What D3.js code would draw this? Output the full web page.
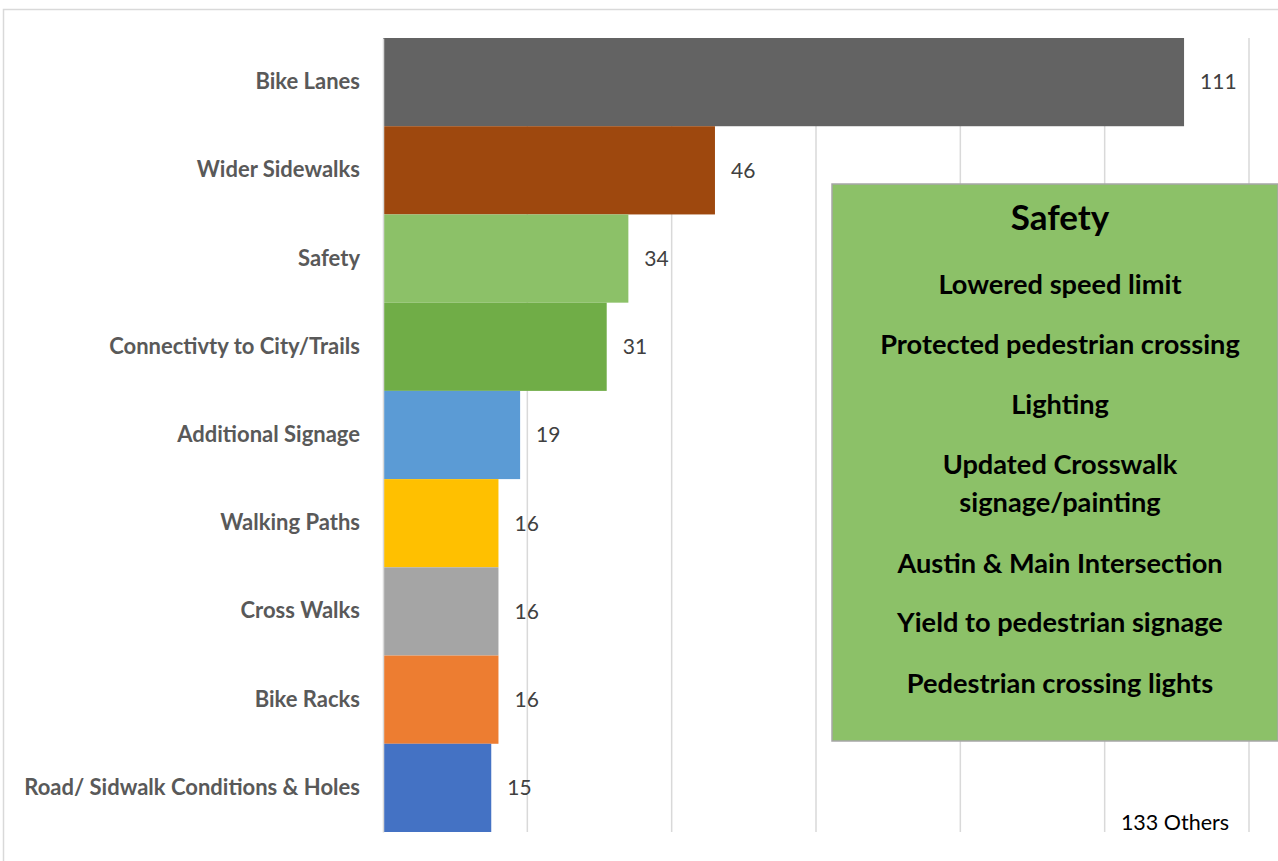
<!DOCTYPE html>
<html>
<head>
<meta charset="utf-8">
<script src="https://cdn.jsdelivr.net/npm/d3@7"></script>
<style>
  html, body { margin: 0; padding: 0; background: #fff; }
  svg { display: block; }
</style>
</head>
<body>
<svg id="chart" width="1278" height="861"></svg>
<script>
// Improvement requests, ranked by number of mentions
const categories = [
  "Bike Lanes",
  "Wider Sidewalks",
  "Safety",
  "Connectivty to City/Trails",
  "Additional Signage",
  "Walking Paths",
  "Cross Walks",
  "Bike Racks",
  "Road/ Sidwalk Conditions & Holes"
];
const counts = [111, 46, 34, 31, 19, 16, 16, 16, 15];
const barColors = ["#636363", "#9e480e", "#8cc168", "#70ad47", "#5b9bd5",
                   "#ffc000", "#a5a5a5", "#ed7d31", "#4472c4"];
const xTicks = [0, 20, 40, 60, 80, 100, 120];

// Breakdown of the "Safety" responses
const safetyTitle = "Safety";
const safetyItems = [
  ["Lowered speed limit"],
  ["Protected pedestrian crossing"],
  ["Lighting"],
  ["Updated Crosswalk", "signage/painting"],
  ["Austin & Main Intersection"],
  ["Yield to pedestrian signage"],
  ["Pedestrian crossing lights"]
];
const othersNote = "133 Others";

const FONT = "Lato, 'Open Sans', sans-serif";
const svg = d3.select("#chart");

// chart frame
svg.append("rect")
  .attr("x", 3.5).attr("y", 9.5)
  .attr("width", 1290).attr("height", 870)
  .attr("fill", "#fff").attr("stroke", "#d9d9d9").attr("stroke-width", 1.5);

const plot = { left: 383, top: 38, right: 1249, bottom: 832 };

const x = d3.scaleLinear().domain([0, 120]).range([plot.left, plot.right]);
const y = d3.scaleBand().domain(categories).range([plot.top, plot.bottom]).padding(0);

// vertical gridlines
svg.append("g")
  .selectAll("line")
  .data(xTicks.slice(1))
  .join("line")
  .attr("x1", d => x(d)).attr("x2", d => x(d))
  .attr("y1", plot.top).attr("y2", plot.bottom)
  .attr("stroke", "#d9d9d9").attr("stroke-width", 1.5);

// bars
svg.append("g")
  .selectAll("rect")
  .data(categories)
  .join("rect")
  .attr("x", x(0))
  .attr("y", d => y(d))
  .attr("width", (d, i) => x(counts[i]) - x(0))
  .attr("height", y.bandwidth())
  .attr("fill", (d, i) => barColors[i]);

// category axis
const yAxis = svg.append("g")
  .attr("transform", `translate(${plot.left},0)`)
  .call(d3.axisLeft(y).tickSize(0).tickPadding(23));
yAxis.select(".domain").attr("stroke", "#d9d9d9").attr("stroke-width", 1.5);
yAxis.selectAll("text")
  .attr("font-family", FONT)
  .attr("font-weight", "bold")
  .attr("font-size", 22)
  .attr("fill", "#595959");

// value labels
svg.append("g")
  .selectAll("text")
  .data(categories)
  .join("text")
  .attr("x", (d, i) => x(counts[i]) + 16)
  .attr("y", d => y(d) + y.bandwidth() / 2)
  .attr("dy", "0.35em")
  .attr("font-family", FONT)
  .attr("font-size", 21)
  .attr("fill", "#404040")
  .text((d, i) => counts[i]);

// safety breakdown box
const box = { x: 832, y: 184, w: 446, h: 557 };
svg.append("rect")
  .attr("x", box.x).attr("y", box.y)
  .attr("width", box.w).attr("height", box.h)
  .attr("fill", "#8cc168").attr("stroke", "#a6a6a6").attr("stroke-width", 1.5);

const cx = 1060;
svg.append("text")
  .attr("x", cx).attr("y", 218)
  .attr("dy", "0.35em")
  .attr("text-anchor", "middle")
  .attr("font-family", FONT).attr("font-weight", "bold")
  .attr("font-size", 35).attr("fill", "#000")
  .text(safetyTitle);

const itemTops = [284, 344, 404, 464, 563, 622, 683];
safetyItems.forEach((lines, i) => {
  lines.forEach((ln, j) => {
    svg.append("text")
      .attr("x", cx).attr("y", itemTops[i] + j * 38)
      .attr("dy", "0.35em")
      .attr("text-anchor", "middle")
      .attr("font-family", FONT).attr("font-weight", "bold")
      .attr("font-size", 27.2).attr("fill", "#000")
      .text(ln);
  });
});

svg.append("text")
  .attr("x", 1175).attr("y", 822)
  .attr("dy", "0.35em")
  .attr("text-anchor", "middle")
  .attr("font-family", FONT)
  .attr("font-size", 21.5).attr("fill", "#000")
  .text(othersNote);
</script>
</body>
</html>
